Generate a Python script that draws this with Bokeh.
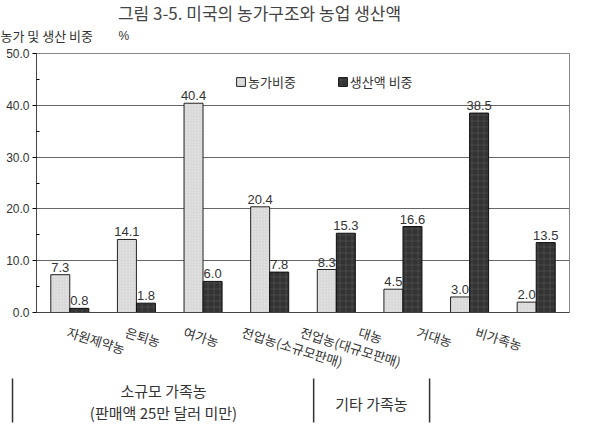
from bokeh.plotting import figure
from bokeh.layouts import column
from bokeh.models import (ColumnDataSource, LabelSet, Label, Legend, LegendItem,
                          Range1d, FactorRange, FixedTicker, CustomJSTickFormatter,
                          LinearAxis)
from bokeh.core.properties import value
from bokeh.transform import dodge
from bokeh.embed import file_html
from bokeh.resources import INLINE

categories = ["자원제약농", "은퇴농", "여가농", "전업농(소규모판매)",
              "전업농(대규모판매)", "대농", "거대농", "비가족농"]
farm_share = [7.3, 14.1, 40.4, 20.4, 8.3, 4.5, 3.0, 2.0]
prod_share = [0.8, 1.8, 6.0, 7.8, 15.3, 16.6, 38.5, 13.5]
y_ticks = [0, 10, 20, 30, 40, 50]
y_minor = [5, 15, 25, 35, 45]
series_names = ["농가비중", "생산액 비중"]
title_text = "그림 3-5. 미국의 농가구조와 농업 생산액"
y_label_text = "농가 및 생산 비중"
unit_text = "%"
group_small = "소규모 가족농"
group_small_sub = "(판매액 25만 달러 미만)"
group_other = "기타 가족농"

KR = "Noto Sans CJK KR"
NUM = "Liberation Sans"
W = 595
TOP_H = 45
MAIN_H = 277
BOT_H = 437 - TOP_H - MAIN_H
LEFT = 36
RIGHT = 26


def no_align(f):
    try:
        f.frame_align = False
    except Exception:
        pass


def blank(height, x_range, y_range):
    f = figure(width=W, height=height, x_range=x_range, y_range=y_range,
               output_backend="svg", toolbar_location=None,
               x_axis_type=None, y_axis_type=None,
               min_border_left=0, min_border_right=0,
               min_border_top=0, min_border_bottom=0)
    f.grid.visible = False
    f.outline_line_color = None
    f.background_fill_color = "white"
    no_align(f)
    return f


# ---------- top strip: title and y label ----------
top = blank(TOP_H, Range1d(0, W), Range1d(0, TOP_H))
top.add_layout(Label(x=259, y=TOP_H - 12, text=title_text, text_align="center",
                     text_baseline="middle", text_font=KR, text_font_size="17px",
                     text_color="#444444"))
top.add_layout(Label(x=0, y=TOP_H - 35, text=y_label_text, text_align="left",
                     text_baseline="middle", text_font=KR, text_font_size="13px",
                     text_color="#333333"))
top.add_layout(Label(x=118, y=TOP_H - 35, text=unit_text, text_align="left",
                     text_baseline="middle", text_font=NUM, text_font_size="12px",
                     text_color="#333333"))

# ---------- main chart ----------
src = ColumnDataSource(dict(
    cat=categories,
    farm=farm_share,
    prod=prod_share,
    farm_txt=[f"{v:.1f}" for v in farm_share],
    prod_txt=[f"{v:.1f}" for v in prod_share],
))

p = figure(width=W, height=MAIN_H, x_range=FactorRange(factors=categories),
           y_range=Range1d(0, 50), output_backend="svg", toolbar_location=None,
           x_axis_type=None,
           min_border_left=LEFT, min_border_right=RIGHT, min_border_top=8,
           min_border_bottom=10)
no_align(p)
p.background_fill_color = "white"
p.outline_line_color = "#888888"
p.outline_line_width = 1

xaxis = LinearAxis(ticker=FixedTicker(ticks=[]), axis_line_color="#444444",
                   major_tick_line_color=None, minor_tick_line_color=None)
p.add_layout(xaxis, "below")

off = 0.143
bw = 0.285
r1 = p.vbar(x=dodge("cat", -off, range=p.x_range), top="farm", width=bw, source=src,
            fill_color="#e4e4e4", line_color="#222222", line_width=1,
            hatch_pattern="/", hatch_color="#c4c4c4", hatch_scale=3, hatch_weight=0.5)
r2 = p.vbar(x=dodge("cat", off, range=p.x_range), top="prod", width=bw, source=src,
            fill_color="#333333", line_color="#111111", line_width=1,
            hatch_pattern="+", hatch_color="#5a5a5a", hatch_scale=6, hatch_weight=0.5)

for col, txt, dx in (("farm", "farm_txt", -off), ("prod", "prod_txt", off)):
    p.add_layout(LabelSet(x=dodge("cat", dx, range=p.x_range), y=col, text=txt,
                          source=src, text_align="center", text_baseline="bottom",
                          y_offset=3, text_font=value(NUM), text_font_size="13px",
                          text_color="#333333"))

p.yaxis.ticker = FixedTicker(ticks=y_ticks, minor_ticks=y_minor)
p.yaxis.formatter = CustomJSTickFormatter(code="return tick.toFixed(1)")
p.yaxis.major_label_text_font = NUM
p.yaxis.major_label_text_font_size = "12px"
p.yaxis.major_label_text_color = "#333333"
p.yaxis.axis_line_color = "#444444"
p.yaxis.major_tick_in = 0
p.yaxis.major_tick_out = 4
p.yaxis.minor_tick_in = 3
p.yaxis.minor_tick_out = 0
p.yaxis.major_label_standoff = 3

p.xgrid.grid_line_color = None
p.ygrid.grid_line_color = "#666666"
p.ygrid.grid_line_width = 1

legend = Legend(items=[LegendItem(label=series_names[0], renderers=[r1]),
                       LegendItem(label=series_names[1], renderers=[r2])],
                orientation="horizontal", location=(199, 221),
                border_line_alpha=0, background_fill_alpha=0,
                label_text_font=KR, label_text_font_size="13px",
                label_text_color="#333333", glyph_width=11, glyph_height=11,
                spacing=41, padding=0, margin=0, label_standoff=2)
p.add_layout(legend)

# ---------- bottom strip: category labels and group brackets ----------
n = len(categories)
step = (W - LEFT - RIGHT) / n
bot = blank(BOT_H, Range1d(-LEFT / step, (W - LEFT) / step), Range1d(0, BOT_H))
Y0 = 437  # bottom strip: y = 437 - page_y
lab_src = ColumnDataSource(dict(
    x=[i + 0.5 for i in range(n)],
    y=[Y0 - 331] * n,
    text=categories,
    xo=[-2.3 - 8.3 * i for i in range(n)],
))
bot.text(x="x", y="y", text="text", x_offset="xo", source=lab_src, angle=-0.3,
         text_align="left", text_baseline="middle", text_font=value(KR),
         text_font_size="13px", text_color="#333333")

for bx in (-0.36, 4.16, 5.9):
    bot.segment(x0=bx, y0=Y0 - 378, x1=bx, y1=Y0 - 422,
                line_color="#333333", line_width=1.5)

for gx, gy, gt in ((1.906, 390, group_small), (1.906, 412, group_small_sub),
                   (5.028, 403, group_other)):
    bot.add_layout(Label(x=gx, y=Y0 - gy, text=gt, text_align="center",
                         text_baseline="middle", text_font=KR, text_font_size="15px",
                         text_color="#333333"))

layout = column(top, p, bot, spacing=0)
open("out.html", "w").write(file_html(layout, INLINE))
